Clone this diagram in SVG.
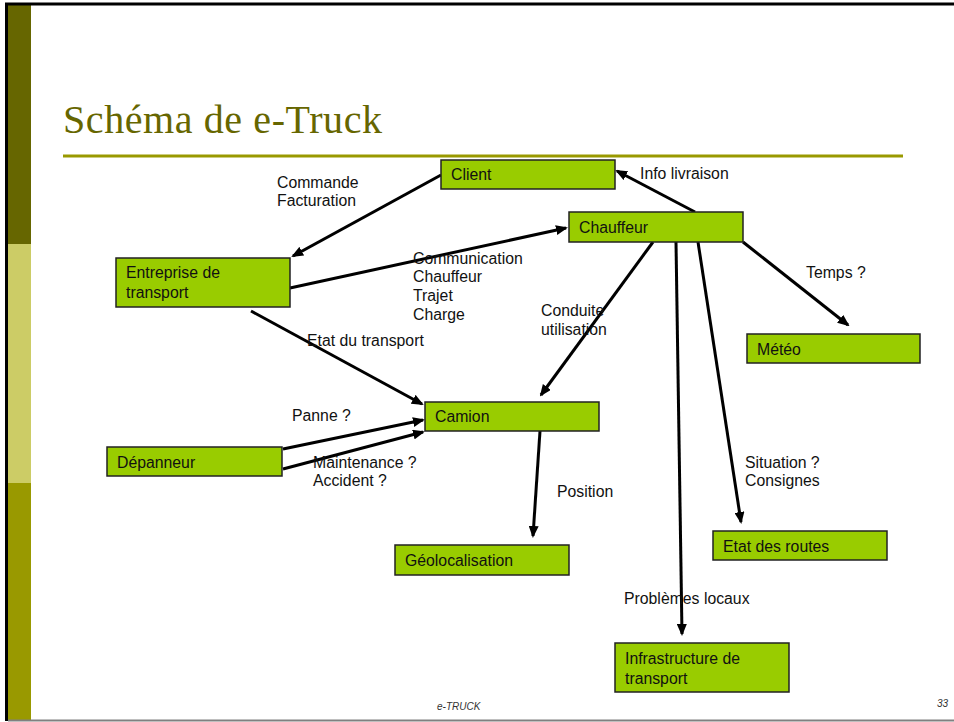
<svg xmlns="http://www.w3.org/2000/svg" width="954" height="722" viewBox="0 0 954 722">
<style>
.node rect{fill:#99CC00;stroke:#222;stroke-width:1.5}
.node text,.lbl{font-family:"Liberation Sans",Arial,sans-serif;font-size:15.8px;fill:#111}
.edge{stroke:#000;stroke-width:3;fill:none;marker-end:url(#ah)}
.foot{font-family:"Liberation Sans",Arial,sans-serif;font-size:10px;font-style:italic;fill:#333}
</style>
<defs>
<marker id="ah" markerWidth="12" markerHeight="10" refX="10" refY="5" orient="auto" markerUnits="userSpaceOnUse">
<path d="M0,0 L12,5 L0,10 Z" fill="#000"/>
</marker>
</defs>
<rect x="0" y="0" width="954" height="722" fill="#fff"/>
<g id="frame">
<rect x="8" y="5" width="23" height="239" fill="#666600"/>
<rect x="8" y="244" width="23" height="239" fill="#CCCC66"/>
<rect x="8" y="483" width="23" height="237" fill="#999900"/>
<line x1="5" y1="4" x2="954" y2="4" stroke="#000" stroke-width="3"/>
<line x1="6.5" y1="3" x2="6.5" y2="721" stroke="#000" stroke-width="3"/>
<line x1="8" y1="720.5" x2="954" y2="720.5" stroke="#808080" stroke-width="2"/>
</g>
<g id="title">
<text x="63" y="133" font-family="'Liberation Serif','Times New Roman',serif" font-size="40" fill="#666600" textLength="319" lengthAdjust="spacing">Schéma de e-Truck</text>
<line x1="63" y1="156" x2="903" y2="156" stroke="#999900" stroke-width="3"/>
</g>
<g id="connectors">
<line class="edge" x1="441" y1="175" x2="293" y2="256"/>
<line class="edge" x1="290" y1="288" x2="566" y2="228"/>
<line class="edge" x1="695" y1="212" x2="617" y2="171"/>
<line class="edge" x1="653" y1="242" x2="541" y2="395"/>
<line class="edge" x1="676" y1="242" x2="682" y2="634"/>
<line class="edge" x1="698" y1="242" x2="741" y2="522"/>
<line class="edge" x1="743" y1="242" x2="848" y2="325"/>
<line class="edge" x1="251" y1="311" x2="422" y2="404"/>
<line class="edge" x1="283" y1="449" x2="423" y2="420"/>
<line class="edge" x1="283" y1="469" x2="423" y2="432"/>
<line class="edge" x1="540" y1="431" x2="533" y2="536"/>
</g>
<g id="labels" class="lbl">
<text class="lbl" x="277" y="188">Commande</text>
<text class="lbl" x="277" y="206">Facturation</text>
<text class="lbl" x="640" y="179">Info livraison</text>
<text class="lbl" x="413" y="264">Communication</text>
<text class="lbl" x="413" y="282">Chauffeur</text>
<text class="lbl" x="413" y="301">Trajet</text>
<text class="lbl" x="413" y="320">Charge</text>
<text class="lbl" x="806" y="278">Temps ?</text>
<text class="lbl" x="541" y="316">Conduite</text>
<text class="lbl" x="541" y="335">utilisation</text>
<text class="lbl" x="307" y="346">Etat du transport</text>
<text class="lbl" x="292" y="421">Panne ?</text>
<text class="lbl" x="313" y="468">Maintenance ?</text>
<text class="lbl" x="313" y="486">Accident ?</text>
<text class="lbl" x="557" y="497">Position</text>
<text class="lbl" x="745" y="468">Situation ?</text>
<text class="lbl" x="745" y="486">Consignes</text>
<text class="lbl" x="624" y="604">Problèmes locaux</text>
</g>
<g id="client" class="node"><rect x="441" y="160" width="174" height="29"/><text x="451" y="180">Client</text></g>
<g id="chauffeur" class="node"><rect x="569" y="212" width="174" height="30"/><text x="579" y="233">Chauffeur</text></g>
<g id="entreprise" class="node"><rect x="116" y="258" width="174" height="49"/><text x="126" y="278">Entreprise de</text><text x="126" y="298">transport</text></g>
<g id="meteo" class="node"><rect x="747" y="334" width="173" height="29"/><text x="757" y="355">Météo</text></g>
<g id="camion" class="node"><rect x="425" y="402" width="174" height="29"/><text x="435" y="422">Camion</text></g>
<g id="depanneur" class="node"><rect x="107" y="447" width="175" height="29"/><text x="117" y="468">Dépanneur</text></g>
<g id="geolocalisation" class="node"><rect x="395" y="545" width="174" height="30"/><text x="405" y="566">Géolocalisation</text></g>
<g id="etat-routes" class="node"><rect x="713" y="531" width="174" height="29"/><text x="723" y="552">Etat des routes</text></g>
<g id="infrastructure" class="node"><rect x="615" y="643" width="174" height="49"/><text x="625" y="664">Infrastructure de</text><text x="625" y="684">transport</text></g>
<g id="footer">
<text class="foot" x="437" y="710">e-TRUCK</text>
<text class="foot" x="937" y="707">33</text>
</g>
</svg>
